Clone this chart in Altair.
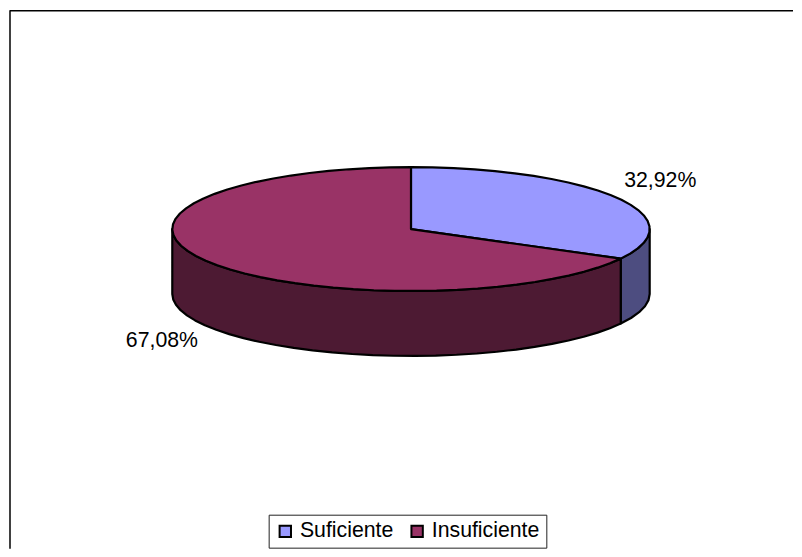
import numpy as np
import altair as alt

# Values
categories = ["Suficiente", "Insuficiente"]
shares = [32.92, 67.08]
share_labels = ["32,92%", "67,08%"]
top_colors = ["#9999FF", "#993366"]
wall_colors = ["#4D4D80", "#4D1A33"]

W, H = 786, 541
RX, RY, DEPTH = 239, 62, 65
CX, CY = 403.5, 221


def rim(a0, a1, dy=0.0):
    """Ellipse rim between two clockwise angles (degrees from 12 o'clock)."""
    n = max(2, int(abs(a1 - a0) / 5) + 1)
    ts = np.radians(np.linspace(a0, a1, n))
    return [[float(RX * np.sin(t)), float(RY * np.cos(t) - dy)] for t in ts]


def feature(ring, name, color):
    ring = ring + [ring[0]]
    return {
        "type": "Feature",
        "geometry": {"type": "Polygon", "coordinates": [ring]},
        "properties": {"name": name, "color": color},
    }


split = shares[0] / sum(shares) * 360

tops = [
    feature([[0.0, 0.0]] + rim(0, split), categories[0], top_colors[0]),
    feature([[0.0, 0.0]] + rim(split, 360), categories[1], top_colors[1]),
]
walls = [
    feature(rim(90, split) + rim(split, 90, DEPTH), categories[0], wall_colors[0]),
    feature(rim(split, 270) + rim(270, split, DEPTH), categories[1], wall_colors[1]),
]

proj = dict(type="identity", scale=1, translate=[CX, CY], reflectY=True)

wall_layer = (
    alt.Chart(alt.Data(values=walls))
    .mark_geoshape(stroke="black", strokeWidth=2.2, strokeJoin="round")
    .encode(fill=alt.Fill("properties.color:N", scale=None, legend=None))
    .project(**proj)
)

top_layer = (
    alt.Chart(alt.Data(values=tops))
    .mark_geoshape(stroke="black", strokeWidth=2.2, strokeJoin="round")
    .encode(
        fill=alt.Fill(
            "properties.name:N",
            scale=alt.Scale(domain=categories, range=top_colors),
            legend=alt.Legend(
                title=None,
                orient="none",
                legendX=261,
                legendY=507,
                direction="horizontal",
                columns=2,
                fillColor="white",
                strokeColor="#222222",
                padding=6,
                symbolType="square",
                symbolSize=130,
                symbolStrokeColor="black",
                symbolStrokeWidth=2,
                labelFont="Liberation Sans",
                labelFontSize=21.3,
                labelColor="black",
                labelLimit=200,
                labelOffset=4,
                columnPadding=13,
            ),
        )
    )
    .project(**proj)
)

label_font = dict(font="Liberation Sans", fontSize=21.3, color="black", align="left", baseline="middle")
label_a = alt.Chart(alt.Data(values=[{"t": share_labels[0]}])).mark_text(**label_font).encode(
    text="t:N", x=alt.value(617), y=alt.value(173)
)
label_b = alt.Chart(alt.Data(values=[{"t": share_labels[1]}])).mark_text(**label_font).encode(
    text="t:N", x=alt.value(118), y=alt.value(333)
)

frame_top = alt.Chart(alt.Data(values=[{}])).mark_rule(color="black", strokeWidth=1.5).encode(
    x=alt.value(2), x2=alt.value(W), y=alt.value(2.5)
)
frame_left = alt.Chart(alt.Data(values=[{}])).mark_rule(color="black", strokeWidth=1.5).encode(
    x=alt.value(2), y=alt.value(2), y2=alt.value(H)
)

chart = (
    alt.layer(frame_top, frame_left, wall_layer, top_layer, label_a, label_b)
    .resolve_scale(fill="independent")
    .properties(width=W, height=H, padding=0, background="white")
    .configure_view(stroke=None)
)

chart.save("out.html", embed_options={"renderer": "svg", "actions": False})
